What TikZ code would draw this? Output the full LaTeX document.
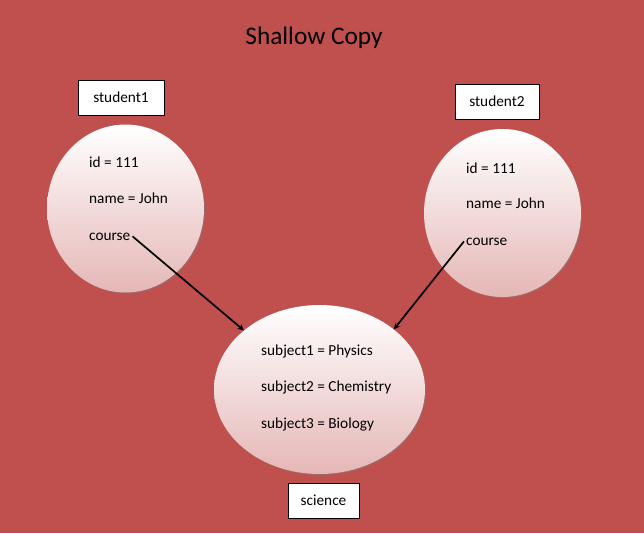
\documentclass[tikz,border=0pt]{standalone}
\usepackage{fontspec}
\setmainfont{Carlito}
\usetikzlibrary{positioning}
\usetikzlibrary{shapes.geometric}
\usetikzlibrary{shadows}
\usetikzlibrary{arrows}
\definecolor{slide red}{RGB}{192,80,77}
\definecolor{blob pink}{RGB}{229,183,182}
\tikzset{
    % Arrow shape as in the slide
    >=stealth,
%
    % Fills
    slide fill/.style={fill=slide red},
    blob fill/.style={top color=white, bottom color=blob pink},
    % Lines
    pointer/.style={draw=black, line width=1.7pt, ->},
}
\begin{document}
\begin{tikzpicture}[
    x=1pt, y=-1pt,
    blob/.style={ellipse, blob fill, inner sep=0,
        drop shadow={shadow xshift=1pt, shadow yshift=-1pt, opacity=0.6}},
    name box/.style={draw, rectangle, fill=white, line width=0.9pt,
        minimum height=35pt, inner sep=0, font=\fontsize{15.3}{17}\selectfont},
    field/.style={anchor=base west, inner sep=0, font=\fontsize{15.3}{18}\selectfont},
]

\path [slide fill] (0,0) rectangle (644,533);
\useasboundingbox (0,0) rectangle (644,533);

\node (title) at (314,38) {\fontsize{25.3}{30}\selectfont Shallow Copy};

% Objects
\node (student1) [blob, minimum width=157pt, minimum height=168pt] at (125.5,208.5) {};
\node (student2) [blob, minimum width=157pt, minimum height=168pt] at (502.5,213) {};
\node (science) [blob, minimum width=211pt, minimum height=169pt] at (319.5,389.5) {};

\node (student1 label) [name box, minimum width=86pt] at (121,97.5) {student1};
\node (student2 label) [name box, minimum width=84pt] at (497,101.5) {student2};
\node (science label) [name box, minimum width=71pt] at (323.5,500.5) {science};

% Fields
\path
    (89,167) node (id1) [field] {id = 111}
    ++(0,36) node (name1) [field] {name = John}
    ++(0,37) node (course1) [field] {course};
\path
    (466,173) node (id2) [field] {id = 111}
    ++(0,35.5) node (name2) [field] {name = John}
    ++(0,36.5) node (course2) [field] {course};
\path
    (261,355) node (subject1) [field] {subject1 = Physics}
    ++(0,36.5) node (subject2) [field] {subject2 = Chemistry}
    ++(0,36.5) node (subject3) [field] {subject3 = Biology};

% Both references point at the same object
\draw [pointer] ([xshift=2pt]course1.east) -- (science.142);
\draw [pointer] ([xshift=-2pt]course2.west) -- (science.39);

\end{tikzpicture}
\end{document}
